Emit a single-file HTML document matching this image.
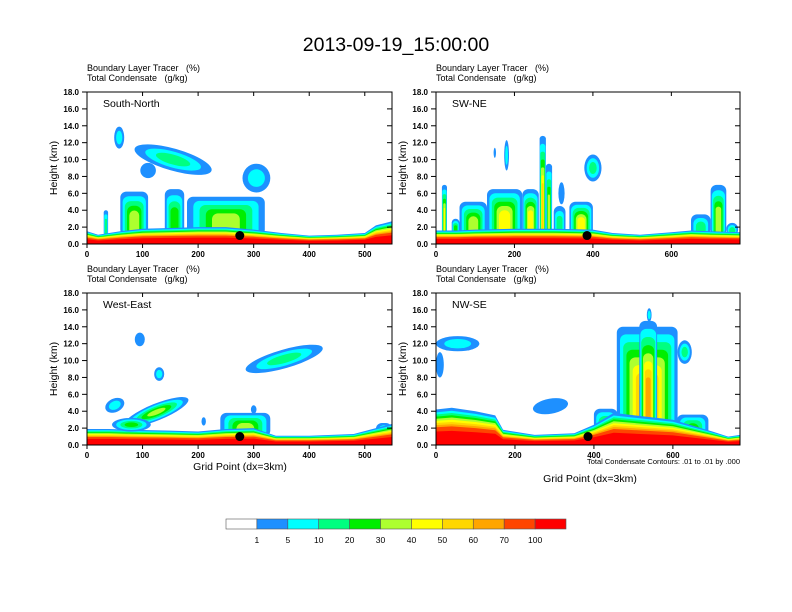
<!DOCTYPE html>
<html><head><meta charset="utf-8">
<style>
html,body{margin:0;padding:0;background:#fff;}
svg{display:block;font-family:"Liberation Sans",Arial,sans-serif;}
</style></head>
<body>
<svg id="chart" width="792" height="612" viewBox="0 0 792 612" xmlns="http://www.w3.org/2000/svg">
<text x="396" y="51" font-size="19.5" text-anchor="middle">2013-09-19_15:00:00</text>
<g id="panels"></g>
<g id="colorbar"></g>
</svg>
<script>
// ---- data ----
const levelLabels = ["1","5","10","20","30","40","50","60","70","100"];
const levelColors = ["#ffffff","#1e90ff","#00ffff","#00ff80","#00ee00","#adff2f","#ffff00","#ffd700","#ffa500","#ff4500","#ff0000"];
const yTicks = [0,2,4,6,8,10,12,14,16,18];
const panelNames = ["South-North","SW-NE","West-East","NW-SE"];
const panelXMax = [549,775,549,770];
const xTicksTL = [0,100,200,300,400,500];
const xTicksTR = [0,200,400,600];
const xTicksBL = [0,100,200,300,400,500];
const xTicksBR = [0,200,400,600];
// boundary-layer top profiles: grid points and heights (km)
const blGridTL = [0,20,60,100,150,200,250,300,350,400,450,500,520,549];
const blTopTL  = [1.5,1.1,1.5,1.8,1.9,2.0,2.0,1.7,1.3,1.0,1.1,1.3,2.2,2.7];
const blGridTR = [0,50,100,200,300,400,450,520,600,650,700,775];
const blTopTR  = [1.6,1.6,1.7,1.8,1.8,1.7,1.3,1.1,1.4,1.6,1.5,1.4];
const blGridBL = [0,40,80,150,200,250,300,340,400,480,520,549];
const blTopBL  = [1.9,1.9,1.8,1.7,1.6,1.9,2.0,1.1,1.1,1.3,2.0,2.5];
const blGridBR = [0,40,100,150,170,250,350,400,450,600,700,740,770];
const blTopBR  = [4.2,4.4,4.0,3.5,1.8,1.2,1.4,2.4,3.8,3.0,1.6,1.0,1.2];
// elliptical cloud cells: [grid x, height km, half-width grid, half-depth km, max level, rotation deg]
const cloudsTL = [[58,12.6,9,1.3,2,0],[155,10.0,72,1.3,3,16],[110,8.7,14,0.9,1,0],[305,7.8,25,1.7,2,0]];
const cloudsTR = [[180,10.5,6,1.8,2,0],[400,9.0,22,1.6,3,0],[320,6.0,8,1.3,1,0],[150,10.8,3,0.6,1,0]];
const cloudsBL = [[125,3.9,62,1.0,5,-22],[50,4.7,18,0.8,2,-25],[80,2.4,35,0.8,4,0],[300,4.2,5,0.5,1,0],
  [355,10.2,72,1.1,3,-16],[95,12.5,9,0.8,1,0],[130,8.4,9,0.8,2,0],[210,2.8,4,0.5,1,0]];
const cloudsBR = [[540,15.4,6,0.8,2,0],[630,11.0,18,1.4,3,0],[55,12.0,55,0.9,2,0],[10,9.5,10,1.5,1,0],[290,4.6,45,0.9,1,-10]];
// convective columns: [grid x0, grid x1, base km, top km, max level]
const colsTL = [[30,38,1,4,3],[60,110,1,6.2,5],[140,175,1,6.5,4],[180,320,1,5.6,5]];
const colsTR = [[15,28,1,7,6],[40,60,1,3,4],[60,130,1,5,5],[130,220,1,6.5,6],[220,262,1,6.5,6],[264,280,1,12.8,7],[280,296,1,9.5,5],[300,330,1,4.5,3],[340,400,1,5,6],[650,700,1,3.5,3],[700,740,1,7,5],[740,770,1,2.5,3]];
const colsBL = [[240,330,1,3.8,5],[520,549,1,2.6,3]];
const colsBR = [[400,460,1,4.3,4],[458,612,1,14,8],[515,560,1,14.7,8],[610,690,1,3.6,4]];
const dots = [[275,1.0],[385,1.0],[275,1.0],[385,1.0]];

// ---- drawing ----
const NS="http://www.w3.org/2000/svg";
const boxes=[[87,92,392,244],[436,92,740,244],[87,293,392,445],[436,293,740,445]];
const blGrids=[blGridTL,blGridTR,blGridBL,blGridBR];
const blTops=[blTopTL,blTopTR,blTopBL,blTopBR];
const cloudSets=[cloudsTL,cloudsTR,cloudsBL,cloudsBR];
const colSets=[colsTL,colsTR,colsBL,colsBR];
const xTickSets=[xTicksTL,xTicksTR,xTicksBL,xTicksBR];
const blFrac=[1,0.92,0.86,0.8,0.74,0.68,0.62,0.56,0.5,0.38];
function mk(tag,attrs,parent){const e=document.createElementNS(NS,tag);for(const k in attrs)e.setAttribute(k,attrs[k]);parent.appendChild(e);return e;}
const root=document.getElementById('panels');
boxes.forEach((b,p)=>{
  const [x0,y0,x1,y1]=b;
  const xs=v=>x0+(v/panelXMax[p])*(x1-x0);
  const ys=v=>y1-(v/18)*(y1-y0);
  const g=mk('g',{},root);
  
  
  const cid='clip'+p;
  const cp=mk('clipPath',{id:cid},g);mk('rect',{x:x0,y:y0,width:x1-x0,height:y1-y0},cp);
  const plot=mk('g',{'clip-path':'url(#'+cid+')'},g);
  colSets[p].forEach(c=>{
    const [a,bb,z0,z1,lv]=c;
    const w=xs(bb)-xs(a), hgt=ys(z0)-ys(z1);
    for(let k=0;k<lv;k++){
      const f=k/(lv+0.6);
      const inx=f*w*0.45, topd=f*hgt*0.6;
      const r=mk('rect',{x:(xs(a)+inx).toFixed(1),y:(ys(z1)+topd).toFixed(1),width:Math.max(1,w-2*inx).toFixed(1),height:Math.max(1,hgt-topd).toFixed(1),rx:Math.min(6,(w-2*inx)/2).toFixed(1),fill:levelColors[k+1]},plot);
      
      
    }
  });
  for(let k=0;k<blFrac.length;k++){
    let d='M'+xs(0)+','+y1;
    blGrids[p].forEach((gx,i)=>{d+=' L'+xs(gx).toFixed(1)+','+ys(blTops[p][i]*blFrac[k]).toFixed(1);});
    d+=' L'+xs(panelXMax[p])+','+y1+' Z';
    const band=mk('path',{d:d,fill:levelColors[k+1]},plot);
    
    
  }
  cloudSets[p].forEach(c=>{
    const [gx,z,rx,rz,lv,rot]=c;
    for(let k=0;k<lv;k++){
      const s=1-k/(lv+0.6);
      const cx=xs(gx), cy=ys(z);
      const el=mk('ellipse',{cx:cx.toFixed(1),cy:cy.toFixed(1),rx:(xs(rx*s)-x0).toFixed(1),ry:(ys(0)-ys(rz*s)).toFixed(1),fill:levelColors[k+1],transform:'rotate('+rot+' '+cx.toFixed(1)+' '+cy.toFixed(1)+')'},plot);
      
      
    }
  });
  const dot=mk('circle',{cx:xs(dots[p][0]),cy:ys(dots[p][1]),r:4.5,fill:'#000'},plot);
  
  
  mk('rect',{x:x0,y:y0,width:x1-x0,height:y1-y0,fill:'none',stroke:'#000','stroke-width':1},g);
  yTicks.forEach(t=>{
    const y=ys(t);
    mk('line',{x1:x0-5,y1:y,x2:x0,y2:y,stroke:'#000'},g);
    mk('line',{x1:x1-5,y1:y,x2:x1,y2:y,stroke:'#000'},g);
    const tl=mk('text',{x:x0-8,y:y+3,'font-size':8,'font-weight':'bold','text-anchor':'end'},g);
    tl.textContent=t.toFixed(1);
    
    
  });
  xTickSets[p].forEach(t=>{
    const x=xs(t);
    mk('line',{x1:x,y1:y1,x2:x,y2:y1+4,stroke:'#000'},g);
    mk('line',{x1:x,y1:y0,x2:x,y2:y0+4,stroke:'#000'},g);
    const tl=mk('text',{x:x,y:y1+13,'font-size':8,'font-weight':'bold','text-anchor':'middle'},g);
    tl.textContent=t;
    
    
  });
  const yl=mk('text',{x:0,y:0,'font-size':10.5,'text-anchor':'middle',transform:'translate('+(x0-30)+','+((y0+y1)/2)+') rotate(-90)'},g);
  yl.textContent='Height (km)';
  
  
  const t1=mk('text',{x:x0,y:y0-21,'font-size':9},g);t1.textContent='Boundary Layer Tracer\u00a0\u00a0\u00a0(%)';
  
  
  const t2=mk('text',{x:x0,y:y0-11,'font-size':9},g);t2.textContent='Total Condensate\u00a0\u00a0\u00a0(g/kg)';
  
  
  const nm=mk('text',{x:x0+16,y:y0+15,'font-size':10.5},g);nm.textContent=panelNames[p];
  
  
});
const svg=document.getElementById('chart');
const xl1=mk('text',{x:240,y:470,'font-size':10.5,'text-anchor':'middle'},svg);xl1.textContent='Grid Point (dx=3km)';


const xl2=mk('text',{x:590,y:482,'font-size':10.5,'text-anchor':'middle'},svg);xl2.textContent='Grid Point (dx=3km)';


const cn=mk('text',{x:740,y:464,'font-size':7.5,'text-anchor':'end'},svg);cn.textContent='Total Condensate Contours: .01 to .01 by .000';


const cb=document.getElementById('colorbar');
const cbx=226,cbw=340,cby=519,cbh=10,n=levelColors.length,bw=cbw/n;
levelColors.forEach((c,i)=>{
  const r=mk('rect',{x:cbx+i*bw,y:cby,width:bw,height:cbh,fill:c,stroke:'#555','stroke-width':0.6},cb);
  
  
});
levelLabels.forEach((l,i)=>{
  const t=mk('text',{x:cbx+(i+1)*bw,y:cby+24,'font-size':8.5,'text-anchor':'middle'},cb);
  t.textContent=l;
  
  
});
</script>
</body></html>
